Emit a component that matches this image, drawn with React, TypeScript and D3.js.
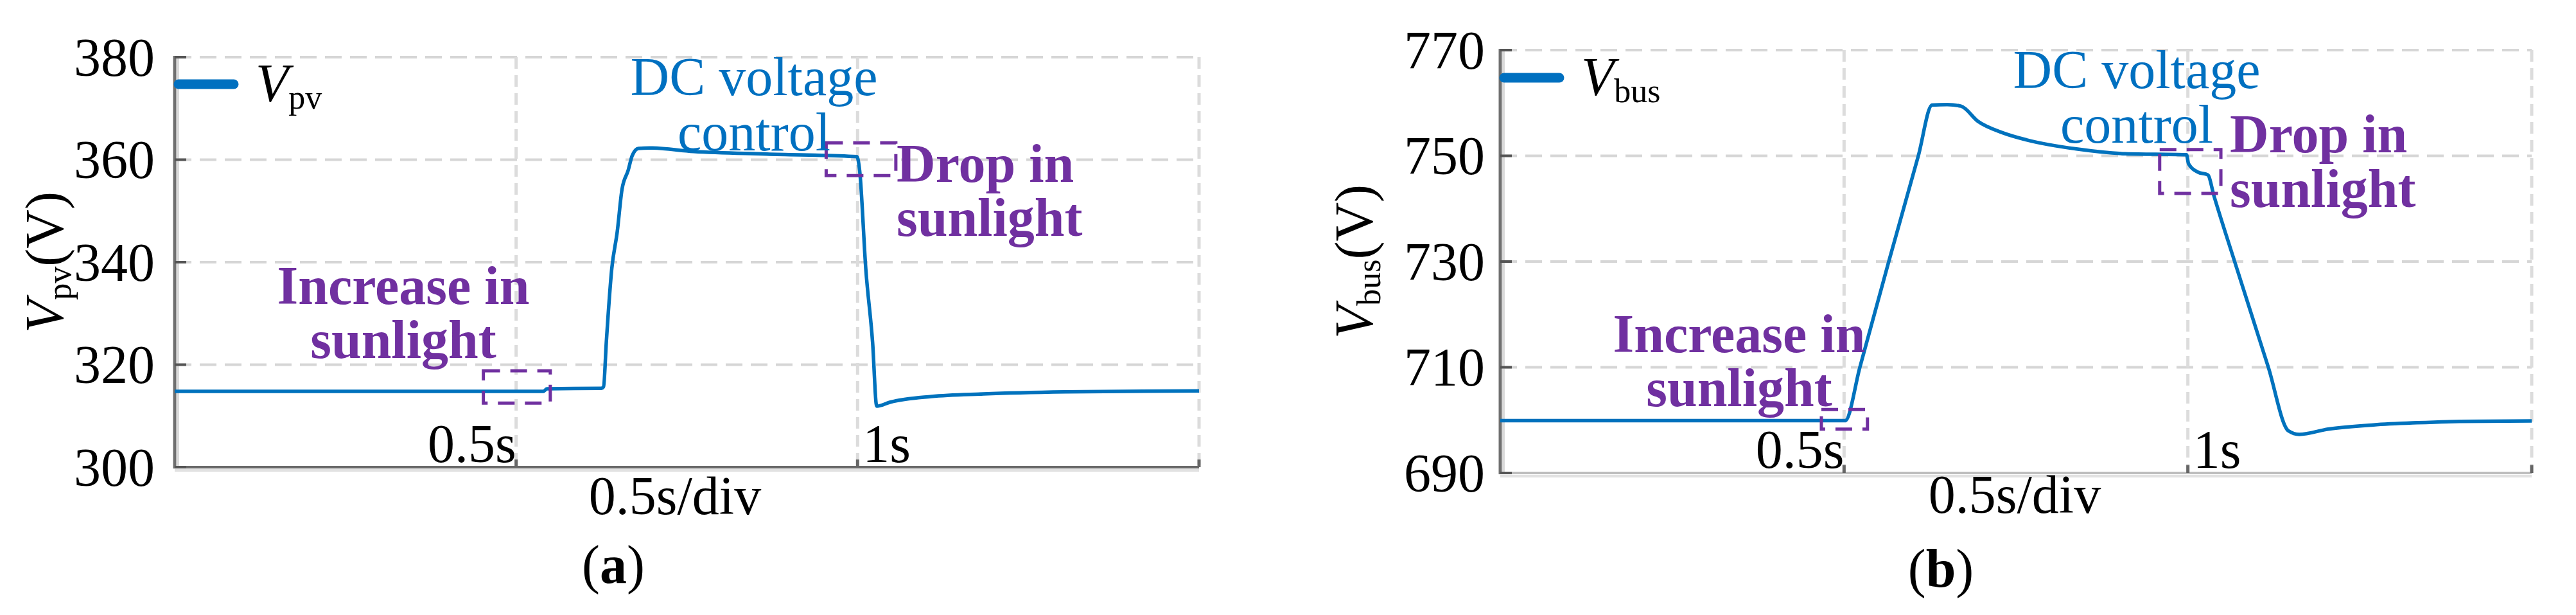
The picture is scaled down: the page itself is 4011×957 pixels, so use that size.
import React from 'react';
import * as d3 from 'd3';

// panel (a): PV voltage
const timePv = [0, 0.54, 0.545, 0.625, 0.628, 0.632, 0.64, 0.648, 0.655, 0.664, 0.67, 0.679, 0.695, 0.76, 0.867, 0.999, 1.003, 1.012, 1.022, 1.028, 1.048, 1.108, 1.184, 1.304, 1.5];
const voltPv = [314.8, 314.8, 315.3, 315.4, 315.7, 324.3, 338.7, 345.9, 354.2, 357.9, 360.8, 362.2, 362.3, 361.6, 361.1, 360.6, 357.9, 338.7, 324.3, 311.9, 312.7, 313.8, 314.3, 314.7, 314.9];

// panel (b): DC bus voltage
const timeBus = [0, 0.5016, 0.523, 0.565, 0.608, 0.628, 0.65, 0.67, 0.695, 0.73, 0.766, 0.838, 0.909, 0.998, 1.001, 1.015, 1.029, 1.038, 1.068, 1.117, 1.146, 1.162, 1.204, 1.27, 1.333, 1.395, 1.5];
const voltBus = [699.9, 699.9, 710, 730, 750, 759.6, 759.7, 759.4, 756.5, 754.4, 753.0, 751.3, 750.4, 750.2, 748.5, 746.9, 746.4, 742.4, 730, 710, 698.0, 697.3, 698.3, 699.1, 699.5, 699.75, 699.85];

const pvTicks = [300, 320, 340, 360, 380];
const busTicks = [690, 710, 730, 750, 770];
const timeGrid = [0.5, 1, 1.5];
const timeTickLabels = ['0.5s', '1s'];

// dashed annotation boxes: [t0, t1, v0, v1]
const pvBoxes = [[0.452, 0.55, 312.5, 318.8], [0.954, 1.056, 356.9, 363.3]];
const busBoxes = [[0.467, 0.534, 698.3, 702.0], [0.959, 1.048, 742.9, 751.2]];

const BLUE = '#0072BD';
const TEXT_BLUE = '#0070C0';
const PURPLE = '#7030A0';
const FONT = '"Liberation Serif", "Times New Roman", Times, serif';
const FS = 84;
const SUB = 52;

function Panel(p) {
  const x = d3.scaleLinear().domain([0, 1.5]).range([p.x0, p.x1]);
  const y = d3.scaleLinear().domain([p.yTicks[0], p.yTicks[p.yTicks.length - 1]]).range([p.y1, p.y0]);
  const line = d3.line().x((d) => x(d[0])).y((d) => y(d[1])).curve(d3.curveMonotoneX);
  const pts = p.times.map((t, i) => [t, p.volts[i]]);

  return (
    <g fontFamily={FONT}>
      {/* grid */}
      {p.yTicks.slice(1).map((v) => (
        <line key={'h' + v} x1={p.x0} x2={p.x1} y1={y(v)} y2={y(v)} stroke="#d6d6d6" strokeWidth={4} strokeDasharray="26 13" />
      ))}
      {timeGrid.map((t) => (
        <line key={'v' + t} x1={x(t)} x2={x(t)} y1={p.y0} y2={p.y1} stroke="#dcdcdc" strokeWidth={5} strokeDasharray="18 10" />
      ))}
      {/* axes */}
      <line x1={p.x0 + 5} x2={p.x0 + 5} y1={p.y0} y2={p.y1} stroke="#dadada" strokeWidth={4} />
      <line x1={p.x0} x2={p.x1} y1={p.y1 + 5} y2={p.y1 + 5} stroke="#e2e2e2" strokeWidth={4} />
      <line x1={p.x0} x2={p.x0} y1={p.y0 - 2} y2={p.y1 + 2} stroke="#707070" strokeWidth={5} />
      <line x1={p.x0} x2={p.x1} y1={p.y1} y2={p.y1} stroke={p.bottomColor} strokeWidth={4} />
      {p.yTicks.map((v) => (
        <line key={'t' + v} x1={p.x0} x2={p.x0 + 18} y1={y(v)} y2={y(v)} stroke="#555" strokeWidth={4} />
      ))}
      {timeGrid.map((t) => (
        <line key={'bt' + t} x1={x(t)} x2={x(t)} y1={p.y1} y2={p.y1 - 12} stroke="#666" strokeWidth={5} />
      ))}
      {/* tick labels */}
      {p.yTicks.map((v) => (
        <text key={'l' + v} x={p.tickRight} y={y(v)} dy="0.34em" textAnchor="end" fontSize={FS} fill="#000">{v}</text>
      ))}
      <text x={x(0.5)} y={p.y1 - 8} textAnchor="end" fontSize={FS}>{timeTickLabels[0]}</text>
      <text x={x(1) + 8} y={p.y1 - 8} fontSize={FS}>{timeTickLabels[1]}</text>

      {/* trace */}
      <path d={line(pts)} fill="none" stroke={BLUE} strokeWidth={5.5} strokeLinejoin="round" />

      {/* boxes */}
      {p.boxes.map((b, i) => (
        <rect key={'b' + i} x={x(b[0])} y={y(b[3])} width={x(b[1]) - x(b[0])} height={y(b[2]) - y(b[3])}
          fill="none" stroke={PURPLE} strokeWidth={5} strokeDasharray="26 16" />
      ))}

      {/* legend */}
      <line x1={p.x0 + 6} x2={p.x0 + 92} y1={p.legendY} y2={p.legendY} stroke={TEXT_BLUE} strokeWidth={15} strokeLinecap="round" />
      <text x={p.x0 + 126} y={p.legendY + 27} fontSize={FS}>
        <tspan fontStyle="italic">V</tspan>
        <tspan fontSize={SUB} dy={11}>{p.sub}</tspan>
      </text>

      {/* axis titles */}
      <text transform={`translate(${p.yLabelX},${(p.y0 + p.y1) / 2}) rotate(-90)`} textAnchor="middle" fontSize={FS}>
        <tspan fontStyle="italic">V</tspan>
        <tspan fontSize={SUB} dy={12}>{p.sub}</tspan>
        <tspan dy={-12}>(V)</tspan>
      </text>
      <text x={p.xLabelX} y={p.xLabelY} textAnchor="middle" fontSize={FS}>0.5s/div</text>
      <text x={p.capX} y={p.capY} textAnchor="middle" fontSize={FS}>
        <tspan>(</tspan><tspan fontWeight="bold">{p.cap}</tspan><tspan>)</tspan>
      </text>

      {/* annotations */}
      <text x={p.dc[0]} y={p.dc[1]} textAnchor="middle" fontSize={FS} fill={TEXT_BLUE}>DC voltage</text>
      <text x={p.dc[0]} y={p.dc[2]} textAnchor="middle" fontSize={FS} fill={TEXT_BLUE}>control</text>
      <text x={p.drop[0]} y={p.drop[1]} fontSize={FS} fontWeight="bold" fill={PURPLE}>Drop in</text>
      <text x={p.drop[0]} y={p.drop[2]} fontSize={FS} fontWeight="bold" fill={PURPLE}>sunlight</text>
      <text x={p.inc[0]} y={p.inc[1]} textAnchor="middle" fontSize={FS} fontWeight="bold" fill={PURPLE}>Increase in</text>
      <text x={p.inc[0]} y={p.inc[2]} textAnchor="middle" fontSize={FS} fontWeight="bold" fill={PURPLE}>sunlight</text>
    </g>
  );
}

export default function App() {
  return (
    <svg width={4011} height={957} style={{ position: 'absolute', left: 0, top: 0, background: '#fff' }}>
      <rect width={4011} height={957} fill="#fff" />
      <Panel times={timePv} volts={voltPv} yTicks={pvTicks} boxes={pvBoxes}
        x0={272} x1={1867} y0={89} y1={727} bottomColor="#6a6a6a"
        sub="pv" cap="a" tickRight={241} yLabelX={98} legendY={131}
        xLabelX={1051} xLabelY={800} capX={955} capY={907}
        dc={[1174, 148, 234]} drop={[1396, 283, 367]} inc={[628, 473, 557]} />
      <Panel times={timeBus} volts={voltBus} yTicks={busTicks} boxes={busBoxes}
        x0={2336} x1={3942} y0={78} y1={736} bottomColor="#bdbdbd"
        sub="bus" cap="b" tickRight={2312} yLabelX={2137} legendY={121}
        xLabelX={3137} xLabelY={798} capX={3022} capY={913}
        dc={[3327, 137, 222]} drop={[3472, 237, 322]} inc={[2708, 548, 632]} />
    </svg>
  );
}
